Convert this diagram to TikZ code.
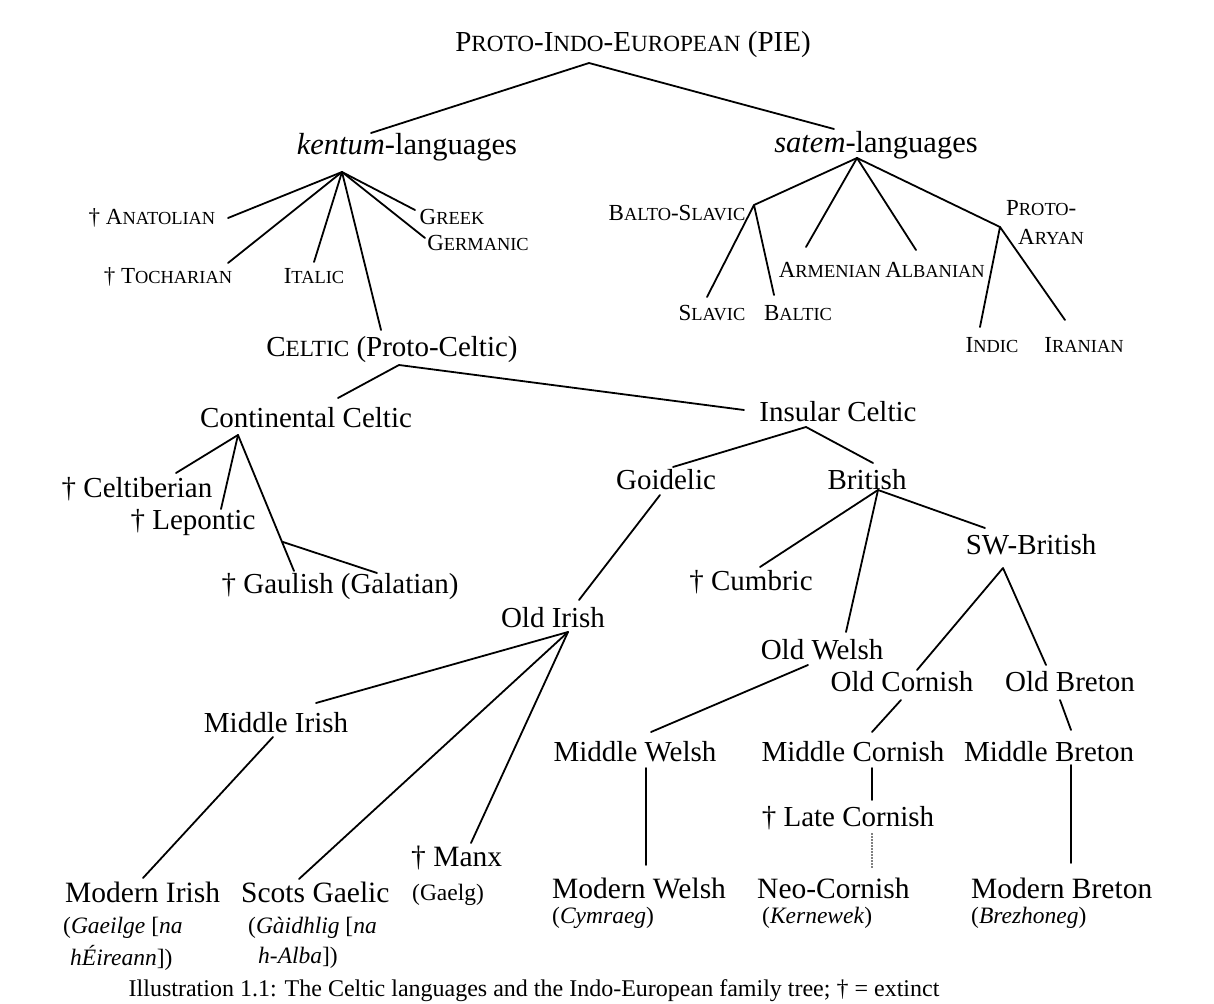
\documentclass[tikz,border=0pt]{standalone}
\usepackage{fontspec}
\setmainfont{Liberation Serif}
\newdimen\scsz
\newcommand{\fsc}[1]{{\scsz=0.8\fontdimen6\font\fontsize{\the\scsz}{\the\scsz}\selectfont\MakeUppercase{#1}}}
\begin{document}
\begin{tikzpicture}[x=1pt,y=-1pt,
  lbl/.style={inner sep=0pt, font=\fontsize{29}{32}\selectfont},
  big/.style={inner sep=0pt, font=\fontsize{30.5}{34}\selectfont},
  sml/.style={inner sep=0pt, font=\fontsize{23}{26}\selectfont},
  sub/.style={inner sep=0pt, anchor=west, font=\fontsize{23.5}{26}\selectfont},
  bot/.style={inner sep=0pt, anchor=west, font=\fontsize{29.5}{32}\selectfont},
  captxt/.style={inner sep=0pt, font=\fontsize{24}{28}\selectfont},
  edge/.style={line width=1.8pt, line cap=round, line join=round},
  dots/.style={line width=1.1pt, gray, dash pattern=on 1.5pt off 1.5pt}]
\useasboundingbox[fill=white] (0,0) rectangle (1214,1003);

% ---------- nodes ----------
\node[lbl] (pie) at (633,45) {P\fsc{roto}-I\fsc{ndo}-E\fsc{uropean} (PIE)};
\node[big] (kentum) at (407,147) {\textit{kentum}-languages};
\node[big] (satem) at (876,145) {\textit{satem}-languages};
\node[sml] (anatolian) at (152,218) {† A\fsc{natolian}};
\node[sml] (tocharian) at (168,277) {† T\fsc{ocharian}};
\node[sml] (italic) at (314,276) {I\fsc{talic}};
\node[sml] (greek) at (452,217) {G\fsc{reek}};
\node[sml] (germanic) at (478,243) {G\fsc{ermanic}};
\node[lbl] (celtic) at (392,350) {C\fsc{eltic} (Proto-Celtic)};
\node[sml] (baltoslavic) at (677,213) {B\fsc{alto}-S\fsc{lavic}};
\node[sml] (armenian) at (830,270) {A\fsc{rmenian}};
\node[sml] (albanian) at (935,270) {A\fsc{lbanian}};
\node[sml, align=left, font=\fontsize{23}{29}\selectfont] (protoaryan) at (1045,222) {P\fsc{roto}-\\\hspace*{12pt}A\fsc{ryan}};
\node[sml] (slavic) at (712,313) {S\fsc{lavic}};
\node[sml] (baltic) at (798,313) {B\fsc{altic}};
\node[sml] (indic) at (992,345) {I\fsc{ndic}};
\node[sml] (iranian) at (1084,345) {I\fsc{ranian}};

\node[lbl] (continental) at (306,418) {Continental Celtic};
\node[lbl] (insular) at (838,412) {Insular Celtic};
\node[lbl] (celtiberian) at (137,489) {† Celtiberian};
\node[lbl] (lepontic) at (193,523) {† Lepontic};
\node[lbl] (gaulish) at (340,587) {† Gaulish (Galatian)};
\node[lbl] (goidelic) at (666,480) {Goidelic};
\node[lbl] (british) at (867,480) {British};
\node[lbl] (swbritish) at (1031,545) {SW-British};
\node[lbl] (cumbric) at (751,582) {† Cumbric};
\node[lbl] (oldirish) at (553,618) {Old Irish};
\node[lbl] (oldwelsh) at (822,650) {Old Welsh};
\node[lbl] (oldcornish) at (902,682) {Old Cornish};
\node[lbl] (oldbreton) at (1070,682) {Old Breton};
\node[lbl] (middleirish) at (276,723) {Middle Irish};
\node[lbl] (middlewelsh) at (635,752) {Middle Welsh};
\node[lbl] (middlecornish) at (853,752) {Middle Cornish};
\node[lbl] (middlebreton) at (1049,752) {Middle Breton};
\node[lbl] (latecornish) at (848,818) {† Late Cornish};

\node[bot] (modernirish) at (65,892) {Modern Irish};
\node[sub] (modernirishA) at (63,928) {(\textit{Gaeilge} [\textit{na}};
\node[sub] (modernirishB) at (70,958) {\textit{hÉireann}])};
\node[bot] (scotsgaelic) at (241,892) {Scots Gaelic};
\node[sub] (scotsA) at (248,928) {(\textit{Gàidhlig} [\textit{na}};
\node[sub] (scotsB) at (258,958) {\textit{h-Alba}])};
\node[bot] (manx) at (411,858) {† Manx};
\node[sub] (manxA) at (412,895) {(Gaelg)};
\node[bot] (modernwelsh) at (552,888) {Modern Welsh};
\node[sub] (welshA) at (552,918) {(\textit{Cymraeg})};
\node[bot] (neocornish) at (757,888) {Neo-Cornish};
\node[sub] (cornishA) at (762,918) {(\textit{Kernewek})};
\node[bot] (modernbreton) at (971,888) {Modern Breton};
\node[sub] (bretonA) at (971,918) {(\textit{Brezhoneg})};
\node[captxt] (caption) at (534,991) {Illustration 1.1: The Celtic languages and the Indo-European family tree; † = extinct};

% ---------- connector points ----------
\coordinate (pieA) at (589,63);
\coordinate (kentumT) at (371,133);
\coordinate (satemT) at (834,129);
\coordinate (kA) at (342,172);
\coordinate (anatolianE) at (228,218);
\coordinate (tocharianE) at (228,263);
\coordinate (italicE) at (314,262);
\coordinate (celticE) at (381,330);
\coordinate (greekE) at (415,210);
\coordinate (germanicE) at (425,238);
\coordinate (sA) at (857,158);
\coordinate (bsV) at (754,205);
\coordinate (armenianE) at (806,247);
\coordinate (albanianE) at (916,250);
\coordinate (paV) at (1000,227);
\coordinate (slavicE) at (707,297);
\coordinate (balticE) at (774,295);
\coordinate (indicE) at (980,327);
\coordinate (iranianE) at (1065,320);
\coordinate (cA) at (399,365);
\coordinate (continentalE) at (338,398);
\coordinate (insularE) at (744,410);
\coordinate (ccA) at (238,435);
\coordinate (celtiberianE) at (176,473);
\coordinate (leponticE) at (221,509);
\coordinate (gaulishE) at (294,571);
\coordinate (gaulV) at (283,542);
\coordinate (galatianE) at (377,573);
\coordinate (icA) at (806,427);
\coordinate (goidelicE) at (673,467);
\coordinate (britishE) at (873,463);
\coordinate (goidelicB) at (660,495);
\coordinate (oldirishT) at (579,600);
\coordinate (brA) at (878,490);
\coordinate (cumbricE) at (760,567);
\coordinate (oldwelshT) at (846,632);
\coordinate (swbritishE) at (985,528);
\coordinate (swA) at (1003,568);
\coordinate (oldcornishT) at (917,670);
\coordinate (oldbretonT) at (1046,665);
\coordinate (oiA) at (568,632);
\coordinate (middleirishT) at (316,703);
\coordinate (scotsT) at (299,879);
\coordinate (manxT) at (471,843);
\coordinate (middleirishB) at (273,737);
\coordinate (modernirishT) at (143,878);
\coordinate (oldwelshB) at (808,665);
\coordinate (middlewelshT) at (651,732);
\coordinate (oldcornishB) at (901,700);
\coordinate (middlecornishT) at (872,732);
\coordinate (oldbretonB) at (1060,700);
\coordinate (middlebretonT) at (1071,730);
\coordinate (middlewelshB) at (646,768);
\coordinate (modernwelshT) at (646,865);
\coordinate (middlecornishB) at (872,768);
\coordinate (latecornishT) at (872,800);
\coordinate (latecornishB) at (872,833);
\coordinate (neocornishT) at (872,868);
\coordinate (middlebretonB) at (1071,765);
\coordinate (modernbretonT) at (1071,863);

% ---------- connectors ----------
\draw[edge] (kentumT) -- (pieA) -- (satemT);
\foreach \e in {anatolianE,tocharianE,italicE,celticE,greekE,germanicE}
  \draw[edge] (kA) -- (\e);
\foreach \e in {bsV,armenianE,albanianE,paV}
  \draw[edge] (sA) -- (\e);
\draw[edge] (slavicE) -- (bsV) -- (balticE);
\draw[edge] (indicE) -- (paV) -- (iranianE);
\draw[edge] (continentalE) -- (cA) -- (insularE);
\foreach \e in {celtiberianE,leponticE,gaulishE}
  \draw[edge] (ccA) -- (\e);
\draw[edge] (gaulV) -- (galatianE);
\draw[edge] (goidelicE) -- (icA) -- (britishE);
\draw[edge] (goidelicB) -- (oldirishT);
\foreach \e in {cumbricE,oldwelshT,swbritishE}
  \draw[edge] (brA) -- (\e);
\draw[edge] (oldcornishT) -- (swA) -- (oldbretonT);
\foreach \e in {middleirishT,scotsT,manxT}
  \draw[edge] (oiA) -- (\e);
\draw[edge] (middleirishB) -- (modernirishT);
\draw[edge] (oldwelshB) -- (middlewelshT);
\draw[edge] (oldcornishB) -- (middlecornishT);
\draw[edge] (oldbretonB) -- (middlebretonT);
\draw[edge] (middlewelshB) -- (modernwelshT);
\draw[edge] (middlecornishB) -- (latecornishT);
\draw[dots] (latecornishB) -- (neocornishT);
\draw[edge] (middlebretonB) -- (modernbretonT);
\end{tikzpicture}
\end{document}
